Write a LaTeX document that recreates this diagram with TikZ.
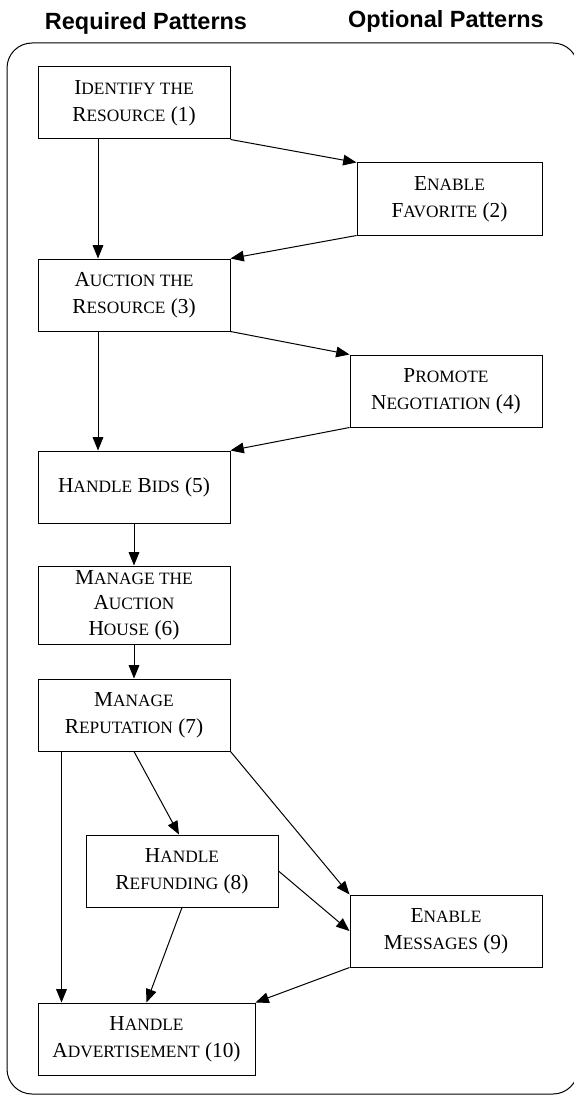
\documentclass[tikz,border=0pt]{standalone}
\usepackage{fontspec}
\usetikzlibrary{arrows.meta}
\newfontfamily\boxfont{Liberation Serif}
\newfontfamily\titlefont{Liberation Sans}
\newcommand\Sm[1]{{\fontsize{13pt}{20pt}\selectfont #1}}
\tikzset{
  pbox/.style={draw, line width=0.75pt, rectangle, inner sep=0pt, align=center,
    minimum width=144pt, minimum height=54pt,
    font=\boxfont\fontsize{16pt}{20.5pt}\selectfont},
  ttl/.style={anchor=base, font=\titlefont\bfseries\fontsize{17.6pt}{20pt}\selectfont},
  arr/.style={line width=0.75pt, -{Triangle[length=10pt,width=8pt]}},
  frame/.style={line width=0.75pt, rounded corners=18.75pt}
}
\begin{document}
\begin{tikzpicture}[x=0.75pt,y=-0.75pt]
\useasboundingbox (0,0) rectangle (574,1095);
\node[ttl] (treq) at (146,30) {Required Patterns};
\node[ttl] (topt) at (446,28) {Optional Patterns};
\draw[frame] (7,43) rectangle (578,1094);

\node[pbox] (b1) at (134,103) {I\Sm{DENTIFY THE}\\R\Sm{ESOURCE} (1)};
\node[pbox, minimum width=138.75pt] (b2) at (449.5,199) {E\Sm{NABLE}\\F\Sm{AVORITE} (2)};
\node[pbox] (b3) at (134,295) {A\Sm{UCTION THE}\\R\Sm{ESOURCE} (3)};
\node[pbox] (b4) at (446,391) {P\Sm{ROMOTE}\\N\Sm{EGOTIATION} (4)};
\node[pbox] (b5) at (134,487) {H\Sm{ANDLE} B\Sm{IDS} (5)};
\node[pbox, minimum height=58.5pt, font=\boxfont\fontsize{16pt}{19.2pt}\selectfont] (b6) at (134,605) {M\Sm{ANAGE THE}\\A\Sm{UCTION}\\H\Sm{OUSE} (6)};
\node[pbox] (b7) at (134,715) {M\Sm{ANAGE}\\R\Sm{EPUTATION} (7)};
\node[pbox] (b8) at (182,871) {H\Sm{ANDLE}\\R\Sm{EFUNDING} (8)};
\node[pbox] (b9) at (446,931) {E\Sm{NABLE}\\M\Sm{ESSAGES} (9)};
\node[pbox, minimum width=162.75pt] (b10) at (146.5,1039) {H\Sm{ANDLE}\\A\Sm{DVERTISEMENT} (10)};

\draw[arr] (b1.south east) -- (b2.north west);
\draw[arr] ([xshift=-27pt]b1.south) -- ([xshift=-27pt]b3.north);
\draw[arr] (b2.south west) -- (b3.north east);
\draw[arr] (b3.south east) -- (b4.north west);
\draw[arr] ([xshift=-27pt]b3.south) -- ([xshift=-27pt]b5.north);
\draw[arr] (b4.south west) -- (b5.north east);
\draw[arr] (b5.south) -- (b6.north);
\draw[arr] (b6.south) -- (b7.north);
\draw[arr] (b7.south) -- ([xshift=-2.25pt]b8.north);
\draw[arr] (b7.south east) -- (b9.north west);
\draw[arr] ([xshift=18pt]b7.south west) -- ([xshift=18pt]b10.north west);
\draw[arr] (b8.east) -- (b9.west);
\draw[arr] (b8.south) -- (b10.north);
\draw[arr] (b9.south west) -- (b10.north east);
\end{tikzpicture}
\end{document}
